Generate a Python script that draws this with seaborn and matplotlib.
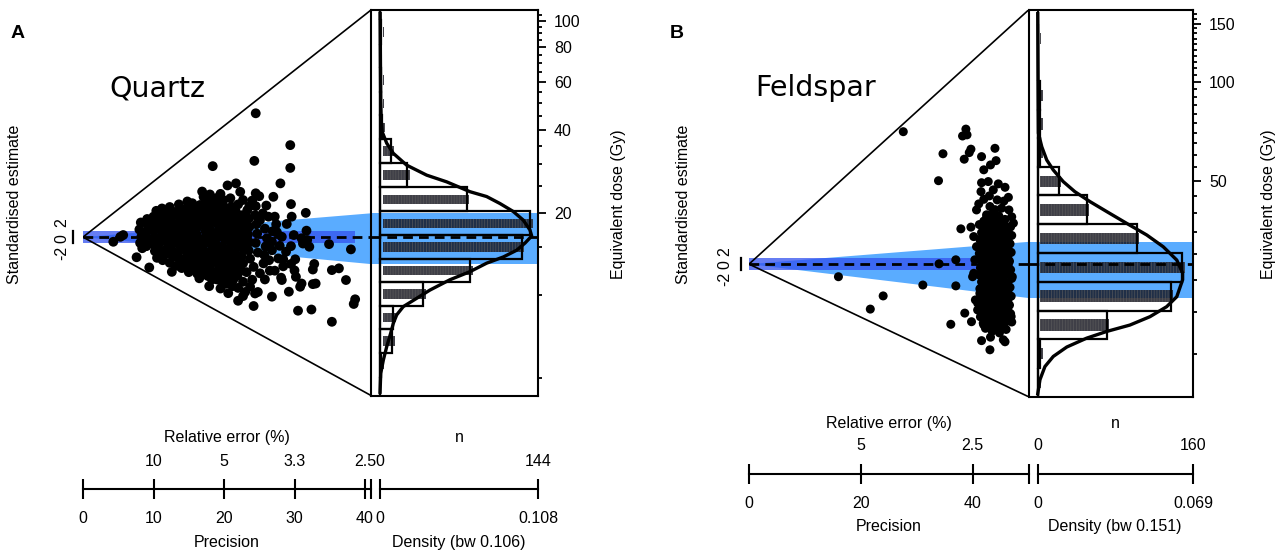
import matplotlib
matplotlib.use("Agg")
import matplotlib.pyplot as plt
import matplotlib.transforms as mtransforms
from matplotlib.ticker import NullFormatter
import numpy as np
import seaborn as sns

# ---------------- values ----------------
# histogram bins (Gy), shared by both samples
bin_edges = [4.15, 5.06, 6.18, 7.53, 9.17, 11.16, 13.59, 16.55, 20.24, 24.75,
             30.3, 37.0, 45.2, 55.1, 67.3, 82.2, 100.3, 122.5, 149.6]

# --- A: quartz ---
quartz_counts = [0, 1, 11, 12, 39, 82, 129, 137, 79, 25, 10, 2, 1, 1, 0, 1, 0, 0]
quartz_central = 16.3           # Gy, dashed line
quartz_band = (13.0, 19.9)      # Gy, dispersion polygon at the right edge
quartz_de_lim = (4.32, 109.4)   # Gy, range of the dose axis
quartz_prec_max = 40.85
quartz_n_max = 144
quartz_dens_max = 0.108
quartz_kde_de = [107.6, 71.9, 51.4, 43.5, 39.4, 35.8, 32.9, 29.8, 27.4, 25.9, 23.85,
                 22.9, 21.6, 20.2, 18.8, 17.3, 16.45, 15.5, 14.6, 13.8, 13.1, 12.2,
                 11.4, 10.46, 9.76, 9.10, 8.49, 7.91, 7.28, 6.51, 5.82, 5.20, 4.38]
quartz_kde_dens = [0.0001, 0.0003, 0.0005, 0.0008, 0.0015, 0.0046, 0.0091, 0.0182,
                   0.0319, 0.0456, 0.0615, 0.0729, 0.0820, 0.0911, 0.0979, 0.1025,
                   0.1037, 0.0991, 0.0934, 0.0843, 0.0729, 0.0615, 0.0478, 0.0342,
                   0.0251, 0.0159, 0.0114, 0.0091, 0.0073, 0.0046, 0.0023, 0.0005, 0.0]
quartz_points = [  # (precision, standardised estimate)
    (8.2, 5.0), (8.0, 2.6), (8.3, 0.3), (8.1, -2.0), (8.4, -3.8),
    (9.1, 6.2), (9.2, 3.9), (8.9, 1.5), (9.2, -0.8), (9.0, -3.1),
    (10.0, 7.0), (10.2, 4.6), (9.9, 2.3), (10.1, 0.0), (10.0, -2.4), (10.2, -4.8),
    (10.9, 7.4), (11.0, 5.0), (10.8, 2.8), (11.1, 0.4), (10.9, -1.9), (10.8, -4.2), (11.1, -6.0),
    (11.8, 8.1), (11.9, 5.8), (11.7, 3.4), (11.9, 1.1), (11.8, -1.3), (12.0, -3.6), (11.7, -5.9),
    (12.7, 7.2), (12.6, 4.9), (12.8, 2.5), (12.7, 0.2), (12.9, -2.1), (12.6, -4.5), (12.8, -6.8),
    (13.6, 9.0), (13.7, 6.6), (13.5, 4.2), (13.7, 1.8), (13.6, -0.6), (13.8, -3.0), (13.5, -5.3),
    (13.7, -7.6),
    (14.5, 9.6), (14.4, 7.3), (14.6, 5.0), (14.5, 2.7), (14.4, 0.4), (14.6, -2.0), (14.5, -4.3),
    (14.7, -6.6), (14.4, -8.8),
    (15.4, 10.0), (15.5, 7.7), (15.3, 5.4), (15.5, 3.1), (15.4, 0.8), (15.3, -1.5), (15.6, -3.8),
    (15.4, -6.1), (15.5, -8.4),
    (16.3, 10.4), (16.2, 8.1), (16.4, 5.8), (16.3, 3.5), (16.1, 1.1), (16.4, -1.2), (16.3, -3.5),
    (16.2, -5.8), (16.4, -8.1), (16.3, -10.3),
    (17.2, 11.1), (17.3, 8.8), (17.1, 6.5), (17.2, 4.2), (17.4, 1.9), (17.2, -0.4), (17.1, -2.7),
    (17.3, -5.0), (17.2, -7.3), (17.4, -9.6), (17.1, -11.8),
    (18.1, 12.1), (18.0, 9.7), (18.2, 7.3), (18.1, 5.0), (18.0, 2.6), (18.2, 0.3), (18.1, -2.1),
    (18.3, -4.4), (18.0, -6.8), (18.1, -9.1), (18.2, -11.5),
    (19.0, 11.5), (19.1, 9.2), (18.9, 6.9), (19.0, 4.6), (19.2, 2.2), (19.0, -0.1), (18.9, -2.5),
    (19.1, -4.8), (19.0, -7.1), (19.2, -9.4), (18.9, -12.0),
    (19.9, 10.8), (20.0, 8.4), (19.8, 6.1), (20.0, 3.8), (19.9, 1.4), (20.1, -0.9), (19.8, -3.2),
    (20.0, -5.6), (19.9, -7.9), (20.1, -10.2), (19.8, -12.6),
    (20.8, 9.9), (20.9, 7.6), (20.7, 5.2), (20.9, 2.9), (20.8, 0.6), (21.0, -1.7), (20.7, -4.0),
    (20.9, -6.4), (20.8, -8.7), (21.0, -11.0),
    (21.7, 8.6), (21.8, 6.3), (21.6, 4.0), (21.8, 1.6), (21.7, -0.7), (21.9, -3.1), (21.6, -5.4),
    (21.8, -7.8), (21.7, -10.1),
    (22.6, 7.5), (22.7, 5.1), (22.5, 2.8), (22.7, 0.4), (22.6, -1.9), (22.8, -4.3), (22.5, -6.6),
    (22.7, -9.0),
    (23.5, 6.3), (23.6, 3.5), (23.4, 0.9), (23.6, -1.8), (23.5, -4.6), (23.7, -7.4),
    (24.6, 4.4), (24.7, 1.2), (24.5, -2.0), (24.8, -5.3),
    (25.8, 2.9), (25.9, -3.2), (25.7, -6.1),
    # edges of the dense cloud
    (20.5, -14.0), (21.9, -13.2), (23.2, -12.0), (22.4, -11.5), (24.0, -14.6), (23.0, -18.8),
    (21.2, -16.8), (20.2, -16.0), (25.8, -14.5), (26.5, -11.5), (22.0, -21.8), (20.6, -19.2),
    (19.5, -17.6), (18.6, -12.8), (17.7, -13.3), (16.2, -12.5), (15.0, -12.0), (14.0, -10.6),
    (13.3, -9.8), (12.3, -8.8), (11.3, -7.9), (10.5, -7.1),
    (17.6, 13.4), (19.5, 14.8), (20.9, 13.3), (22.3, 15.5), (23.6, 10.5), (16.9, 15.6),
    (14.8, 12.2), (13.6, 11.2), (12.3, 10.3), (11.2, 9.8), (10.4, 9.0), (23.3, 9.2),
    (24.0, 12.5), (22.0, 11.2), (26.0, 10.8), (27.4, 4.4), (26.8, -4.5), (27.9, -3.0),
    (28.8, -5.0), (26.9, 2.0), (28.4, -10.0), (30.0, -11.4),
    # scattered points
    (24.5, 42.4), (29.4, 31.5), (24.3, 26.1), (29.4, 23.7), (21.7, 18.4), (20.5, 17.7),
    (28.0, 18.4), (24.5, 15.0), (25.0, 14.0), (27.0, 13.8), (22.7, 12.7), (29.5, 11.3),
    (24.5, 10.6), (31.6, 8.3), (21.1, 10.4), (26.3, 7.0), (27.2, 7.0), (29.6, 7.0),
    (28.9, 4.5), (24.4, 7.5), (25.5, 8.1), (31.7, 2.2), (29.9, 0.7), (28.2, 0.1),
    (27.5, 1.7), (31.0, -0.4), (31.8, -1.0), (31.2, -2.2), (32.1, -3.3), (34.9, -2.4),
    (38.0, -4.2), (29.5, -3.1), (26.8, -1.6), (26.1, -0.4), (30.1, -7.6), (27.7, -7.3),
    (28.4, -7.6), (26.4, -7.9), (29.5, -9.2), (32.8, -9.2), (32.6, -11.1), (35.3, -11.3),
    (36.3, -10.7), (27.2, -11.5), (28.1, -13.9), (28.2, -14.7), (30.2, -13.6), (32.6, -16.1),
    (33.0, -15.9), (31.0, -15.9), (30.8, -17.0), (37.3, -14.7), (29.2, -18.7), (26.8, -20.4),
    (24.4, -19.3), (22.7, -20.2), (24.2, -23.6), (30.5, -25.2), (32.4, -24.8), (35.3, -29.0),
    (38.6, -21.3), (38.4, -22.9), (4.3, -1.6), (5.7, 0.7), (5.3, 0.1), (7.6, -6.9),
    (9.4, -10.4), (12.6, -11.9), (15.3, -10.4), (16.5, -14.1), (17.9, -16.8), (18.3, -14.5),
    (19.0, -14.5), (17.1, 13.8), (18.0, 14.6), (16.6, 11.0), (22.0, -17.4), (19.4, -10.7),
    (20.9, -11.3), (21.3, -14.7), (19.9, 12.7), (21.3, 9.2), (23.0, 7.0), (25.1, 5.8),
    (19.4, -14.7), (21.3, -12.4), (22.7, -15.3), (23.7, -17.0), (25.1, -12.4), (25.6, -9.0),
    (24.2, -10.2), (24.8, -18.8), (18.4, 24.3), (15.5, 11.6), (19.0, 13.4), (12.9, 8.6),
]

# --- B: feldspar ---
feldspar_counts = [0, 0, 0, 0, 0, 1, 3, 71, 137, 149, 102, 51, 22, 3, 3, 3, 0, 1]
feldspar_central = 28.0
feldspar_band = (22.1, 32.7)
feldspar_de_lim = (11.1, 164.9)
feldspar_prec_max = 50.0
feldspar_n_max = 160
feldspar_dens_max = 0.069
feldspar_kde_de = [162.6, 116.4, 88.0, 69.8, 63.5, 57.9, 54.0, 49.8, 46.4, 43.3, 40.4,
                   37.2, 34.3, 31.6, 28.8, 26.3, 25.1, 22.3, 20.8, 19.4, 18.3, 17.5,
                   16.7, 15.7, 14.7, 13.7, 12.5, 11.2]
feldspar_kde_dens = [0.0001, 0.0002, 0.0003, 0.0004, 0.0019, 0.0041, 0.0070, 0.0114,
                     0.0166, 0.0233, 0.0307, 0.0396, 0.0485, 0.0558, 0.0618, 0.0644,
                     0.0644, 0.0618, 0.0573, 0.0499, 0.0410, 0.0307, 0.0218, 0.0130,
                     0.0070, 0.0033, 0.0011, 0.0]
feldspar_points = [
    (41.2, 13.8), (41.6, 11.0), (41.3, 8.6), (41.5, 6.1), (41.2, 3.7), (41.6, 1.2), (41.4, -1.3),
    (41.2, -3.8), (41.6, -6.2), (41.3, -8.6), (41.5, -11.1), (41.2, -13.5), (41.6, -16.0),
    (41.4, -18.4),
    (42.5, 16.2), (42.3, 13.4), (42.6, 11.2), (42.4, 8.8), (42.7, 6.4), (42.5, 4.0), (42.3, 1.6),
    (42.6, -0.8), (42.4, -3.2), (42.7, -5.6), (42.5, -8.0), (42.3, -10.4), (42.6, -12.8),
    (42.4, -15.2), (42.7, -17.6), (42.5, -20.0), (42.3, -22.4),
    (43.6, 17.5), (43.8, 15.0), (43.5, 12.6), (43.7, 10.2), (43.4, 7.8), (43.6, 5.4), (43.8, 3.0),
    (43.5, 0.6), (43.7, -1.8), (43.4, -4.2), (43.6, -6.6), (43.8, -9.0), (43.5, -11.4),
    (43.7, -13.8), (43.4, -16.2), (43.6, -18.6), (43.8, -21.0), (43.5, -23.4),
    (44.7, 16.8), (44.5, 14.4), (44.8, 12.0), (44.6, 9.6), (44.9, 7.2), (44.7, 4.8), (44.5, 2.4),
    (44.8, 0.0), (44.6, -2.4), (44.9, -4.8), (44.7, -7.2), (44.5, -9.6), (44.8, -12.0),
    (44.6, -14.4), (44.9, -16.8), (44.7, -19.2), (44.5, -21.6), (44.8, -24.0),
    (45.8, 15.6), (46.0, 13.2), (45.7, 10.8), (45.9, 8.4), (45.6, 6.0), (45.8, 3.6), (46.0, 1.2),
    (45.7, -1.2), (45.9, -3.6), (45.6, -6.0), (45.8, -8.4), (46.0, -10.8), (45.7, -13.2),
    (45.9, -15.6), (45.6, -18.0), (45.8, -20.4), (46.0, -22.8),
    (46.8, 13.0), (47.0, 10.0), (46.7, 7.1), (46.9, 4.1), (46.6, 1.0), (46.8, -2.0), (47.0, -5.0),
    (46.7, -8.1), (46.9, -11.2), (46.6, -14.3), (46.8, -17.3), (47.0, -20.2),
    # staggered rows filling the dense column
    (42.0, 15.0), (42.0, 12.4), (42.0, 10.0), (42.0, 7.6), (42.0, 5.2), (42.0, 2.8), (42.0, 0.4),
    (42.0, -2.0), (42.0, -4.4), (42.0, -6.8), (42.0, -9.2), (42.0, -11.6), (42.0, -14.0),
    (42.0, -16.4), (42.0, -18.8), (42.0, -21.2),
    (43.1, 16.4), (43.1, 14.0), (43.1, 11.6), (43.1, 9.2), (43.1, 6.8), (43.1, 4.4), (43.1, 2.0),
    (43.1, -0.4), (43.1, -2.8), (43.1, -5.2), (43.1, -7.6), (43.1, -10.0), (43.1, -12.4),
    (43.1, -14.8), (43.1, -17.2), (43.1, -19.6), (43.1, -22.0),
    (44.2, 15.8), (44.2, 13.4), (44.2, 11.0), (44.2, 8.6), (44.2, 6.2), (44.2, 3.8), (44.2, 1.4),
    (44.2, -1.0), (44.2, -3.4), (44.2, -5.8), (44.2, -8.2), (44.2, -10.6), (44.2, -13.0),
    (44.2, -15.4), (44.2, -17.8), (44.2, -20.2), (44.2, -22.6),
    (45.3, 14.6), (45.3, 12.2), (45.3, 9.8), (45.3, 7.4), (45.3, 5.0), (45.3, 2.6), (45.3, 0.2),
    (45.3, -2.2), (45.3, -4.6), (45.3, -7.0), (45.3, -9.4), (45.3, -11.8), (45.3, -14.2),
    (45.3, -16.6), (45.3, -19.0), (45.3, -21.4),
    (46.3, 11.6), (46.3, 8.6), (46.3, 5.6), (46.3, 2.6), (46.3, -0.5), (46.3, -3.5), (46.3, -6.5),
    (46.3, -9.6), (46.3, -12.7), (46.3, -15.8), (46.3, -18.8),
    # loose upper part of the column
    (41.6, 28.4), (42.8, 28.8), (44.6, 28.0), (45.8, 26.8), (41.5, 25.3), (43.7, 25.9),
    (46.4, 23.3), (42.0, 22.6), (44.4, 22.4), (40.7, 18.9), (43.1, 20.1), (45.2, 19.5),
    (46.5, 18.9), (42.5, 17.2), (41.1, 21.0), (44.0, 19.0), (45.6, 22.0), (43.0, 23.8),
    (47.0, 16.5),
    (41.9, -20.6), (41.6, -26.7), (43.1, -29.9), (45.5, -26.4), (43.2, -25.5), (45.8, -27.1),
    (40.7, 6.1), (40.2, 9.6), (40.4, 1.5), (40.2, -3.2), (40.0, -4.4), (41.3, -10.2),
    (40.5, -12.5), (40.9, -13.6), (40.9, -16.0), (47.3, 14.3), (47.1, -4.4), (46.9, -18.3),
    # scattered points
    (27.6, 46.2), (38.8, 47.1), (38.2, 44.7), (39.0, 45.1), (34.7, 38.5), (39.7, 40.1),
    (39.4, 38.9), (38.5, 36.6), (41.6, 37.5), (44.0, 40.4), (44.2, 36.1), (43.2, 34.6),
    (42.0, 32.9), (33.9, 29.1), (37.9, 12.3), (39.7, 12.9), (34.0, 0.1), (37.0, 1.5),
    (31.1, -7.3), (37.0, -7.6), (24.0, -11.1), (36.1, -21.0), (38.6, -17.1), (39.8, -20.1),
    (16.0, -4.4), (21.7, -15.7),
]

# axis ticks / labels
quartz_prec_ticks = [0, 10, 20, 30, 40]
quartz_relerr_ticks = [10, 20, 30, 40]
quartz_relerr_labels = ["10", "5", "3.3", "2.5"]
quartz_de_major = [20, 40, 60, 80, 100]
feldspar_prec_ticks = [0, 20, 40]
feldspar_relerr_ticks = [20, 40]
feldspar_relerr_labels = ["5", "2.5"]
feldspar_de_major = [50, 100, 150]

# ---------------- styling ----------------
sns.set_style("white")
plt.rcParams["font.family"] = ["Liberation Sans", "DejaVu Sans"]
plt.rcParams["axes.edgecolor"] = "black"
plt.rcParams["xtick.color"] = "black"
plt.rcParams["ytick.color"] = "black"
plt.rcParams["text.color"] = "black"
plt.rcParams["axes.labelcolor"] = "black"
plt.rcParams["hatch.linewidth"] = 0.5

LIGHT = "#5aacff"
DARK = "#3352ee"
W, H = 1278, 552
FS = 11.5


def fig_rect(x0, y0, x1, y1):
    return [x0 / W, 1 - y1 / H, (x1 - x0) / W, (y1 - y0) / H]


def line_axis(fig, x0, x1, y, lim, ticks, labels, top_ticks, top_labels, bottom_title, top_title, pads):
    ax = fig.add_axes([x0 / W, 1 - y / H, (x1 - x0) / W, 1e-4])
    ax.patch.set_visible(False)
    ax.set_xlim(*lim)
    ax.set_yticks([])
    for s in ("left", "right", "top"):
        ax.spines[s].set_visible(False)
    ax.spines["bottom"].set_linewidth(1.5)
    ax.set_xticks(ticks, labels)
    ax.tick_params(axis="x", direction="inout", length=14, width=1.5, pad=9, labelsize=FS)
    ax.set_xlabel(bottom_title, fontsize=FS, labelpad=pads[0])
    tw = ax.twiny()
    tw.set_xlim(*lim)
    tw.set_xticks(top_ticks, top_labels)
    tw.tick_params(axis="x", length=0, pad=14.5, labelsize=FS)
    for s in tw.spines.values():
        s.set_visible(False)
    tw.set_xlabel(top_title, fontsize=FS, labelpad=pads[1])


def draw_panel(fig, lay, points, counts, kde_de, kde_dens, d0, band, de_lim, p_max,
               n_max, dens_max, bw, prec_ticks, rel_ticks, rel_labels, de_major, minor_lo,
               title, letter, dot_size):
    prec, z = np.array(points).T
    edges = np.array(bin_edges)
    counts = np.array(counts)

    ax_r = fig.add_axes(fig_rect(lay["x0"], lay["top"], lay["xr"], lay["bot"]))
    ax_h = fig.add_axes(fig_rect(lay["xr"], lay["top"], lay["x1"], lay["bot"]))

    # ---- histogram / KDE part ----
    ax_h.set_yscale("log")
    ax_h.set_ylim(*de_lim)
    px_per_n = (lay["x1"] - lay["xd"]) / n_max
    ax_h.set_xlim(-(lay["xd"] - lay["xr"]) / px_per_n, n_max)
    ax_h.axhspan(band[0], band[1], color=LIGHT, lw=0, zorder=1)
    centres = np.sqrt(edges[:-1] * edges[1:])
    lo, hi = centres * np.exp(-0.04), centres * np.exp(0.04)
    ax_h.barh(lo, counts, height=hi - lo, left=2.5, align="edge", color="#14141e",
              alpha=0.82, edgecolor="#5e5e5e", hatch="||||||", lw=0, zorder=2)
    ax_h.barh(edges[:-1], counts, height=np.diff(edges), align="edge", fill=False,
              edgecolor="black", lw=1.6, zorder=3)
    ax_h.plot(np.array(kde_dens) * n_max / dens_max, kde_de, color="black", lw=2.4,
              zorder=5, solid_capstyle="butt")
    ax_h.axvline(0, color="black", lw=1.6, zorder=4)
    ax_h.axhline(d0, color="black", lw=2, ls=(0, (3.5, 2.2)), zorder=6)
    ax_h.set_xticks([])
    ax_h.yaxis.tick_right()
    ax_h.set_yticks(de_major, [str(v) for v in de_major])
    minor = [v for v in np.arange(minor_lo, de_lim[1], 5) if v not in de_major]
    ax_h.set_yticks(minor, minor=True)
    ax_h.yaxis.set_minor_formatter(NullFormatter())
    ax_h.tick_params(axis="y", which="major", length=5.5, width=1.3, pad=6, labelsize=FS,
                     left=False, right=True)
    ax_h.tick_params(axis="y", which="minor", length=2.8, width=1.3, left=False, right=True)
    for s in ax_h.spines.values():
        s.set_linewidth(1.5)

    # ---- radial part ----
    ax_r.set_xlim(0, p_max)
    zlim = p_max * np.log(np.array(de_lim) / d0)
    ax_r.set_ylim(*zlim)
    ax_r.patch.set_visible(False)
    zb = p_max * np.log(np.array(band) / d0)
    ax_r.fill([0, p_max, p_max], [0, zb[1], zb[0]], color=LIGHT, lw=0, zorder=1)
    ax_r.fill_between([0, prec.max()], -2, 2, color=DARK, alpha=0.75, lw=0, zorder=2)
    ax_r.plot([0, p_max], [0, zlim[1]], color="black", lw=1.2, zorder=2)
    ax_r.plot([0, p_max], [0, zlim[0]], color="black", lw=1.2, zorder=2)
    sns.scatterplot(x=prec, y=z, ax=ax_r, color="black", s=dot_size, edgecolor="none",
                    linewidth=0, zorder=3, legend=False)
    ax_r.axhline(0, color="black", lw=2, ls=(0, (3.5, 2.2)), zorder=4)
    for s in ("top", "right", "bottom"):
        ax_r.spines[s].set_visible(False)
    ax_r.set_xticks([])
    ax_r.set_xlabel("")
    ax_r.set_ylabel("")
    ax_r.spines["left"].set_position(("outward", lay["eout"]))
    ax_r.spines["left"].set_bounds(-2, 2)
    ax_r.spines["left"].set_linewidth(1.6)
    ax_r.set_yticks([-2, 0, 2])
    ax_r.tick_params(axis="y", direction="in", length=lay["elen"], width=1.6, labelleft=False)
    off = mtransforms.offset_copy(ax_r.get_yaxis_transform(), fig=fig, x=lay["lab_dx"], y=0,
                                  units="dots")
    for zz, txt in zip(lay["lab_z"], ["2", "0", "-2"]):
        ax_r.text(0, zz, txt, transform=off, rotation=90, ha="center", va="center", fontsize=FS)

    # ---- bottom axes ----
    line_axis(fig, lay["x0"], lay["xr"], lay["yline"], (0, p_max),
              prec_ticks + [p_max], [str(t) for t in prec_ticks] + [""],
              rel_ticks, rel_labels, "Precision", "Relative error (%)", lay["pads"])
    line_axis(fig, lay["xd"], lay["x1"], lay["yline"], (0, n_max),
              [0, n_max], ["0", str(dens_max)], [0, n_max], ["0", str(n_max)],
              f"Density (bw {bw})", "n", lay["pads"])

    # ---- texts ----
    fig.text(lay["letter"][0] / W, 1 - lay["letter"][1] / H, letter, fontsize=14,
             fontweight="bold", ha="center", va="center")
    fig.text(lay["title"][0] / W, 1 - lay["title"][1] / H, title, fontsize=20.5,
             family="DejaVu Sans", ha="center", va="center")
    fig.text(lay["ylab"] / W, 1 - 204 / H, "Standardised estimate", rotation=90,
             fontsize=FS, ha="center", va="center")
    fig.text(lay["rlab"] / W, 1 - 204 / H, "Equivalent dose (Gy)", rotation=90,
             fontsize=FS, ha="center", va="center")


fig = plt.figure(figsize=(12.78, 5.52), dpi=100)

layout_a = dict(x0=83, xr=371, xd=380, x1=538, top=10, bot=395.5, yline=489,
                eout=7.0, elen=7.7, lab_dx=-21, lab_z=[4.8, -0.4, -5.3], pads=(6.5, 8.3),
                letter=(18, 33), title=(157, 88), ylab=15, rlab=619)
layout_b = dict(x0=749, xr=1028.5, xd=1037.5, x1=1193, top=10, bot=396.7, yline=473.5,
                eout=5.5, elen=6.5, lab_dx=-24, lab_z=[4.4, -0.3, -5.2], pads=(6.0, 7.3),
                letter=(677, 34), title=(816, 88), ylab=684, rlab=1268)

draw_panel(fig, layout_a, quartz_points, quartz_counts, quartz_kde_de, quartz_kde_dens,
           quartz_central, quartz_band, quartz_de_lim, quartz_prec_max, quartz_n_max,
           quartz_dens_max, 0.106, quartz_prec_ticks, quartz_relerr_ticks,
           quartz_relerr_labels, quartz_de_major, 5, "Quartz", "A", 50)
draw_panel(fig, layout_b, feldspar_points, feldspar_counts, feldspar_kde_de, feldspar_kde_dens,
           feldspar_central, feldspar_band, feldspar_de_lim, feldspar_prec_max, feldspar_n_max,
           feldspar_dens_max, 0.151, feldspar_prec_ticks, feldspar_relerr_ticks,
           feldspar_relerr_labels, feldspar_de_major, 15, "Feldspar", "B", 42)

fig.savefig("out.png", dpi=100)
